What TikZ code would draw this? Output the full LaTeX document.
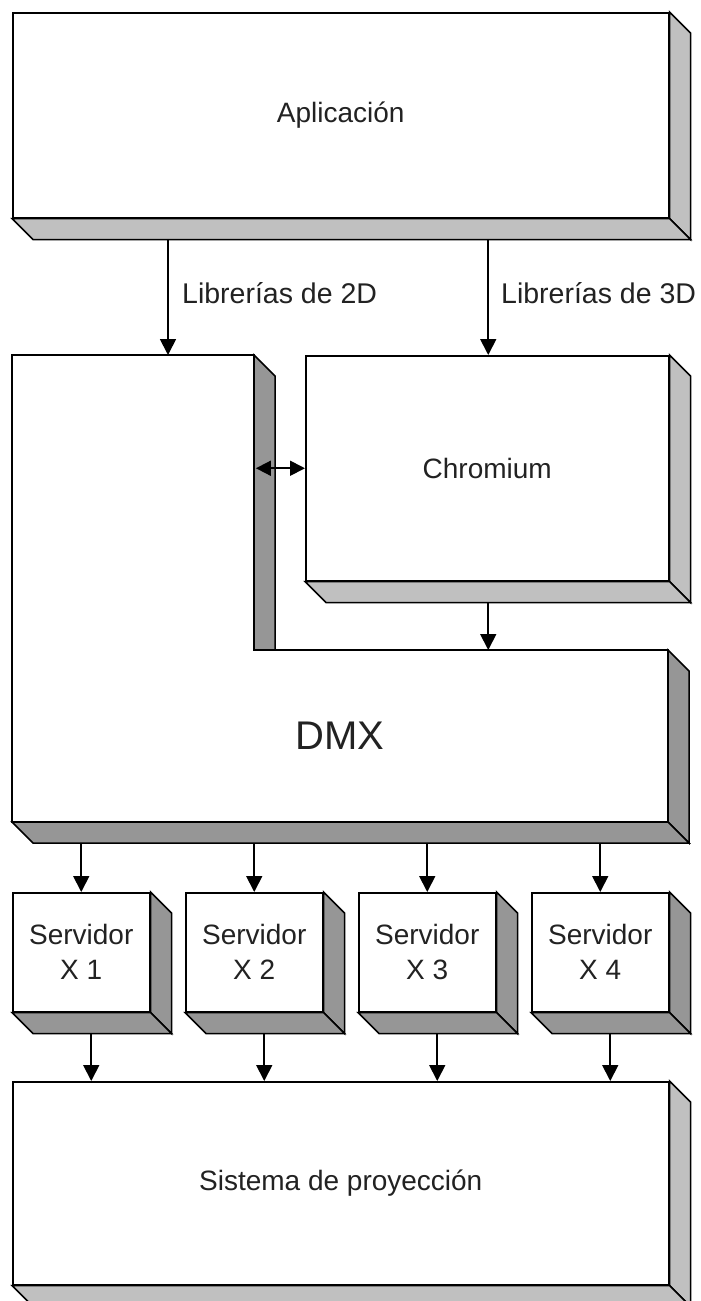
\documentclass[tikz,border=0pt]{standalone}
\usepackage{fontspec}
\setmainfont{Liberation Sans}
\usetikzlibrary{arrows.meta,calc}
\definecolor{lightside}{HTML}{C0C0C0}
\definecolor{darkside}{HTML}{969696}
\definecolor{txt}{HTML}{222222}
\tikzset{
  front/.style={draw=black, line width=1.5pt, fill=white, anchor=north west, inner sep=0pt, text=txt, font=\fontsize{28}{35}\selectfont, align=center},
  face/.style={draw=black, line width=1.5pt, line join=miter},
  arr/.style={line width=1.8pt, -{Triangle[length=16pt,width=16pt]}},
  darr/.style={line width=1.8pt, {Triangle[length=15pt,width=15pt]}-{Triangle[length=15pt,width=15pt]}},
  lbl/.style={anchor=west, text=txt, font=\fontsize{28.5}{35}\selectfont, inner sep=0pt}
}
% depth faces of a box given its front node
\newcommand{\depthfaces}[2]{%
  \filldraw[face, fill=#2] (#1.north east) -- ++(21,21) -- ($(#1.south east)+(21,21)$) -- (#1.south east) -- cycle;
  \filldraw[face, fill=#2] (#1.south west) -- (#1.south east) -- ($(#1.south east)+(21,21)$) -- ($(#1.south west)+(21,21)$) -- cycle;
}
\begin{document}
\begin{tikzpicture}[x=1pt,y=-1pt]
\useasboundingbox (0,0) rectangle (701,1301);
\fill[white] (0,0) rectangle (701,1301);

% Aplicacion
\node[front, minimum width=656pt, minimum height=205pt] (app) at (12,12) {};
\depthfaces{app}{lightside}
\node[front, minimum width=656pt, minimum height=205pt] at (12,12) {Aplicación};

% Chromium
\node[front, minimum width=363pt, minimum height=225pt] (chrom) at (305,355) {};
\depthfaces{chrom}{lightside}
\node[front, minimum width=363pt, minimum height=225pt] at (305,355) {Chromium};

% DMX (L-shaped)
\coordinate (dA) at (12,355);
\coordinate (dB) at (254,355);
\coordinate (dC) at (254,650);
\coordinate (dD) at (668,650);
\coordinate (dE) at (668,822);
\coordinate (dF) at (12,822);
\filldraw[face, fill=darkside] (dB) -- ++(21,21) -- ($(dC)+(21,0)$) -- (dC) -- cycle;
\filldraw[face, fill=darkside] (dD) -- ++(21,21) -- ($(dE)+(21,21)$) -- (dE) -- cycle;
\filldraw[face, fill=darkside] (dF) -- (dE) -- ($(dE)+(21,21)$) -- ($(dF)+(21,21)$) -- cycle;
\filldraw[face, fill=white] (dA) -- (dB) -- (dC) -- (dD) -- (dE) -- (dF) -- cycle;
\node[inner sep=0pt, minimum width=242pt, minimum height=295pt, anchor=north west] (dmxtop) at (12,355) {};
\node[inner sep=0pt, minimum width=656pt, minimum height=172pt, anchor=north west, text=txt, font=\fontsize{40}{48}\selectfont] (dmx) at (12,650) {DMX};

% Servers
\foreach \i/\x in {1/12,2/185,3/358,4/531}{
  \node[front, minimum width=137pt, minimum height=119pt] (s\i) at (\x,892) {};
  \depthfaces{s\i}{darkside}
  \node[front, minimum width=137pt, minimum height=119pt] at (\x,892) {Servidor\\X \i};
}

% Sistema de proyeccion
\node[front, minimum width=656pt, minimum height=203pt] (sis) at (12,1081) {};
\depthfaces{sis}{lightside}
\node[front, minimum width=656pt, minimum height=203pt] at (12,1081) {Sistema de proyección};

% Connectors
\draw[arr] ([xshift=156pt,yshift=-21pt]app.south west) -- ([xshift=156pt]dmxtop.north west);
\draw[arr] ([yshift=-21pt]app.south -| chrom.north) ++(1,0) -- ([xshift=1pt]chrom.north);
\node[lbl] (l2d) at (182,293) {Librerías de 2D};
\node[lbl] (l3d) at (501,293) {Librerías de 3D};
\draw[arr] ([xshift=1pt,yshift=-21pt]chrom.south) -- ([xshift=1pt]chrom.south |- dmx.north);
\draw[darr] ([xshift=1.5pt]dmxtop.east |- chrom.west) -- (chrom.west);
\foreach \i in {1,2,3,4}{
  \draw[arr] (s\i.north |- 0,843) -- (s\i.north);
  \draw[arr] ([xshift=10pt,yshift=-21pt]s\i.south) -- ([xshift=10pt]s\i.south |- sis.north);
}
\end{tikzpicture}
\end{document}
